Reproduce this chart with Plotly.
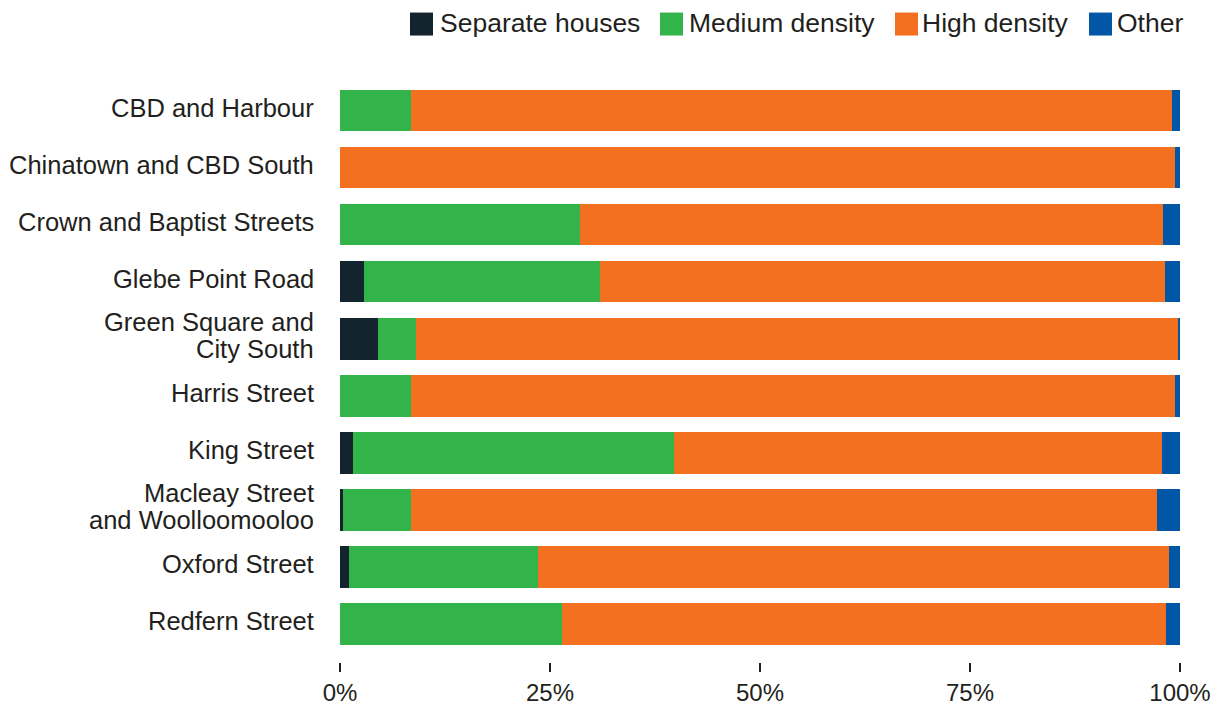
import plotly.graph_objects as go

# Dwelling structure by village (% of dwellings)
categories = [
    "CBD and Harbour",
    "Chinatown and CBD South",
    "Crown and Baptist Streets",
    "Glebe Point Road",
    "Green Square and<br>City South",
    "Harris Street",
    "King Street",
    "Macleay Street<br>and Woolloomooloo",
    "Oxford Street",
    "Redfern Street",
]
separate_houses = [0, 0, 0, 2.8, 4.5, 0, 1.6, 0.3, 1.1, 0]
medium_density = [8.5, 0, 28.6, 28.2, 4.5, 8.4, 38.2, 8.1, 22.5, 26.4]
high_density = [90.5, 99.4, 69.4, 67.2, 90.75, 91.0, 58.1, 88.9, 75.1, 71.9]
other = [1.0, 0.6, 2.0, 1.8, 0.25, 0.6, 2.1, 2.7, 1.3, 1.7]

series_names = ["Separate houses", "Medium density", "High density", "Other"]
series_values = [separate_houses, medium_density, high_density, other]
series_colors = ["#13242f", "#33b44b", "#f37021", "#0156a6"]

x_ticks = [0, 25, 50, 75, 100]
x_tick_labels = ["0%", "25%", "50%", "75%", "100%"]

TEXT = "#231f20"
FONT = "Liberation Sans, Arial, sans-serif"

W, H = 1224, 706
M_L, M_R, M_T, M_B = 340, 44, 81.5, 44
PLOT_W = W - M_L - M_R
PLOT_H = H - M_T - M_B

fig = go.Figure()
for name, vals, color in zip(series_names, series_values, series_colors):
    fig.add_trace(go.Bar(
        y=list(range(len(categories))),
        x=vals,
        name=name,
        orientation="h",
        marker=dict(color=color, line=dict(width=0)),
        showlegend=False,
        hovertemplate="%{x}%<extra>" + name + "</extra>",
    ))

annotations = []
# category labels, one annotation per line
LINE_GAP = 27
for i, cat in enumerate(categories):
    lines = cat.split("<br>")
    n = len(lines)
    for j, line in enumerate(lines):
        annotations.append(dict(
            x=0, xref="paper", y=i, yref="y",
            text=line, showarrow=False,
            xanchor="right", yanchor="middle",
            xshift=-24, yshift=((n - 1) / 2 - j) * LINE_GAP + 3,
            font=dict(family=FONT, size=25.5, color=TEXT),
        ))

# legend row across the top
legend_box_px = [410, 660, 895, 1089]
legend_text_px = [438, 687, 920, 1115]
BOX = 23
box_top_px, box_bot_px = 12, 35

def px_x(p):
    return (p - M_L) / PLOT_W

def px_y(p):
    return (H - M_B - p) / PLOT_H

shapes = []
for name, color, bx, tx in zip(series_names, series_colors, legend_box_px, legend_text_px):
    shapes.append(dict(
        type="rect", xref="paper", yref="paper",
        x0=px_x(bx), x1=px_x(bx + BOX),
        y0=px_y(box_bot_px), y1=px_y(box_top_px),
        fillcolor=color, line=dict(width=0),
    ))
    annotations.append(dict(
        x=px_x(tx), xref="paper", y=px_y((box_top_px + box_bot_px) / 2 - 1), yref="paper",
        text=name, showarrow=False, xanchor="left", yanchor="middle",
        font=dict(family=FONT, size=26.5, color=TEXT),
    ))

fig.update_layout(
    barmode="stack",
    bargap=0.27,
    width=W, height=H,
    margin=dict(l=M_L, r=M_R, t=M_T, b=M_B, autoexpand=False),
    paper_bgcolor="white",
    plot_bgcolor="white",
    font=dict(family=FONT, color=TEXT),
    xaxis=dict(
        range=[0, 100],
        tickvals=x_ticks,
        ticktext=x_tick_labels,
        ticks="outside", ticklen=9, tickwidth=1.6, tickcolor=TEXT,
        showgrid=False, zeroline=False, showline=False,
        tickfont=dict(family=FONT, size=24, color=TEXT),
        fixedrange=True,
    ),
    yaxis=dict(
        range=[9.667, -0.5],
        showticklabels=False,
        showgrid=False, zeroline=False, showline=False,
        ticks="",
        fixedrange=True,
    ),
    shapes=shapes,
    annotations=annotations,
)

fig.write_html("out.html", config={"displayModeBar": False})
